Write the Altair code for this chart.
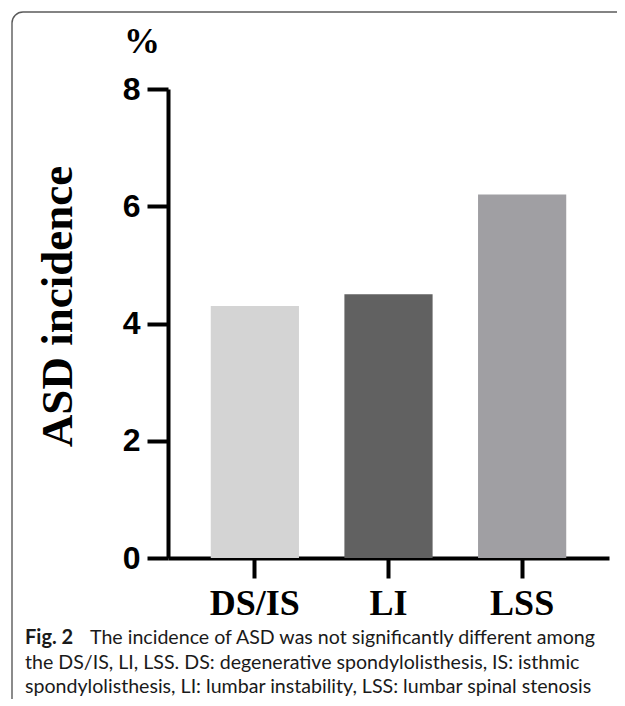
import altair as alt
import pandas as pd
import math

categories = ["DS/IS", "LI", "LSS"]
incidence = [4.3, 4.5, 6.2]
bar_colors = ["#d4d4d4", "#616161", "#a09fa3"]
y_ticks = [0, 2, 4, 6, 8]

caption_bold = "Fig. 2"
caption_lines = [
    "The incidence of ASD was not significantly different among",
    "the DS/IS, LI, LSS. DS: degenerative spondylolisthesis, IS: isthmic",
    "spondylolisthesis, LI: lumbar instability, LSS: lumbar spinal stenosis",
]

W, H = 441, 469
FRAME = "#5a5a5a"

df = pd.DataFrame({"group": categories, "value": incidence})

bars = alt.Chart(df).mark_bar().encode(
    x=alt.X(
        "group:N",
        sort=categories,
        scale=alt.Scale(paddingInner=0.34, paddingOuter=0.32),
        axis=alt.Axis(
            title=None,
            labelAngle=0,
            labelFont="Liberation Serif",
            labelFontWeight="bold",
            labelFontSize=36,
            labelColor="black",
            labelPadding=8,
            tickSize=20,
            tickWidth=4,
            tickColor="black",
            domainWidth=4,
            domainColor="black",
        ),
    ),
    y=alt.Y(
        "value:Q",
        scale=alt.Scale(domain=[0, 8], nice=False),
        axis=alt.Axis(
            title="ASD incidence",
            values=y_ticks,
            grid=False,
            labelFont="Liberation Sans",
            labelFontWeight="bold",
            labelFontSize=32,
            labelColor="black",
            labelPadding=7,
            tickSize=21,
            tickWidth=4,
            tickColor="black",
            domainWidth=4,
            domainColor="black",
            titleFont="Liberation Serif",
            titleFontWeight="bold",
            titleFontSize=45,
            titleColor="black",
            titleAngle=-90,
            titleBaseline="alphabetic",
            titleAlign="center",
            titleX=-97,
            titleY=217,
        ),
    ),
    color=alt.Color(
        "group:N",
        scale=alt.Scale(domain=categories, range=bar_colors),
        legend=None,
    ),
)

percent = alt.Chart(pd.DataFrame({"t": ["%"]})).mark_text(
    font="Liberation Serif", fontWeight="bold", fontSize=36, align="center",
    baseline="alphabetic", color="black",
).encode(text="t:N", x=alt.value(-26), y=alt.value(-36))

one = pd.DataFrame({"k": [0]})

frame_top = alt.Chart(one).mark_rule(color=FRAME, strokeWidth=1.4).encode(
    x=alt.value(-145), x2=alt.value(W + 8), y=alt.value(-77)
)
frame_left = alt.Chart(one).mark_rule(color=FRAME, strokeWidth=1.4).encode(
    x=alt.value(-156), y=alt.value(-66), y2=alt.value(H + 200)
)
frame_corner = alt.Chart(one).mark_arc(
    color=FRAME, innerRadius=10.3, radius=11.7,
    theta=1.5 * math.pi, theta2=2 * math.pi,
).encode(x=alt.value(-145), y=alt.value(-66))

cap_bold = alt.Chart(pd.DataFrame({"t": [caption_bold]})).mark_text(
    font="Lato", fontWeight="bold", fontSize=20, align="left",
    baseline="alphabetic", color="#1a1a1a",
).encode(text="t:N", x=alt.value(-143), y=alt.value(555))

cap1 = alt.Chart(pd.DataFrame({"t": [caption_lines[0]]})).mark_text(
    font="Lato", fontSize=19.6, align="left", baseline="alphabetic", color="#1a1a1a",
).encode(text="t:N", x=alt.value(-78), y=alt.value(555))

cap2 = alt.Chart(pd.DataFrame({"t": [caption_lines[1]]})).mark_text(
    font="Lato", fontSize=19.6, align="left", baseline="alphabetic", color="#1a1a1a",
).encode(text="t:N", x=alt.value(-143), y=alt.value(580))

cap3 = alt.Chart(pd.DataFrame({"t": [caption_lines[2]]})).mark_text(
    font="Lato", fontSize=19.6, align="left", baseline="alphabetic", color="#1a1a1a",
).encode(text="t:N", x=alt.value(-143), y=alt.value(604))

chart = alt.layer(
    frame_top, frame_left, frame_corner, bars, percent, cap_bold, cap1, cap2, cap3
).properties(
    width=W,
    height=H,
    autosize=alt.AutoSizeParams(type="none"),
    padding={"left": 160, "top": 81, "right": 8, "bottom": 141},
).configure_view(stroke=None).resolve_scale(color="independent")

chart.save("out.html", embed_options={"renderer": "svg", "actions": False})
